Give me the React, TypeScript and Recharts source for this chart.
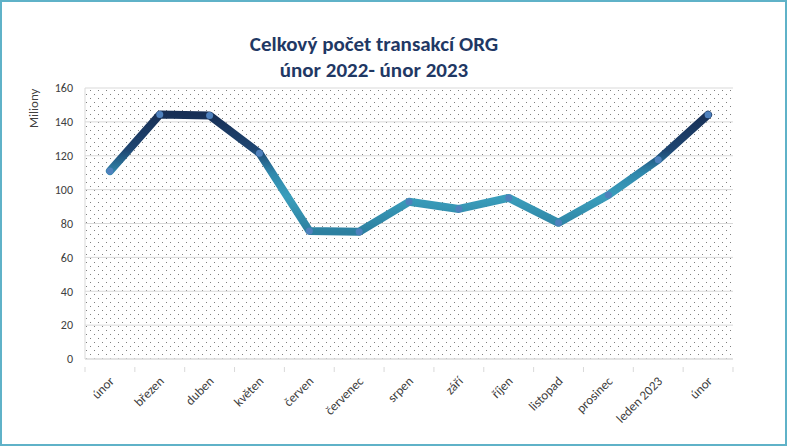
import { LineChart, Line, XAxis, YAxis, CartesianGrid } from 'recharts'

const months = ['únor', 'březen', 'duben', 'květen', 'červen', 'červenec', 'srpen', 'září', 'říjen', 'listopad', 'prosinec', 'leden 2023', 'únor']
const transactions = [111, 144.3, 143.8, 121.5, 75.6, 75.1, 92.8, 88.6, 95.1, 80.4, 96.8, 117.6, 144.2]
const yTicks = [0, 20, 40, 60, 80, 100, 120, 140, 160]

const FONT = "Carlito, Calibri, 'Open Sans', sans-serif"
const W = 787
const H = 446
const MARGIN = { top: 88, right: 54, bottom: 0, left: 40 }
// category band width used for excel-like tick marks between categories
const BAND = (W - MARGIN.right - 85) / months.length

function MonthTick(props: any) {
  const { x, y, payload } = props
  return (
    <g transform={`translate(${x},${y})`}>
      <line x1={-BAND / 2} y1={0} x2={-BAND / 2} y2={5} stroke="#d9d9d9" />
      {payload.index === months.length - 1 && (
        <line x1={BAND / 2} y1={0} x2={BAND / 2} y2={5} stroke="#d9d9d9" />
      )}
      <text
        x={0}
        y={0}
        transform="translate(5,15) rotate(-45)"
        textAnchor="end"
        fontSize={13}
        fontFamily={FONT}
        fill="#404040"
      >
        {months[payload.index]}
      </text>
    </g>
  )
}

export default function App() {
  const data = months.map((m, i) => ({ month: m, key: `${m}-${i}`, value: transactions[i] }))

  return (
    <div
      style={{
        position: 'absolute',
        left: 0,
        top: 0,
        width: W,
        height: H,
        boxSizing: 'border-box',
        border: '2px solid #5fb2c8',
        background: '#fff',
        fontFamily: FONT,
      }}
    >
      <div
        style={{
          position: 'absolute',
          left: 0,
          top: 29,
          width: 744,
          textAlign: 'center',
          fontSize: 21,
          fontWeight: 'bold',
          lineHeight: '26px',
          color: '#1f3864',
        }}
      >
        Celkový počet transakcí ORG
        <br />
        únor 2022- únor 2023
      </div>
      <div
        style={{
          position: 'absolute',
          left: 24,
          top: 126,
          fontSize: 13,
          color: '#404040',
          transform: 'rotate(-90deg)',
          transformOrigin: 'left top',
        }}
      >
        Miliony
      </div>
      <div style={{ position: 'absolute', left: -2, top: -2 }}>
        <LineChart width={W} height={H} data={data} margin={MARGIN}>
          <defs>
            <pattern id="dots" width="8" height="8" patternUnits="userSpaceOnUse">
              <rect x="2" y="2" width="1" height="1" fill="#7f7f7f" />
              <rect x="6" y="6" width="1" height="1" fill="#7f7f7f" />
            </pattern>
            <linearGradient id="lineGrad" x1="0" y1="0" x2="0" y2="1">
              <stop offset="0%" stopColor="#172f55" />
              <stop offset="30%" stopColor="#1f4672" />
              <stop offset="50%" stopColor="#2f88ac" />
              <stop offset="70%" stopColor="#3a9ebc" />
              <stop offset="100%" stopColor="#2d80a0" />
            </linearGradient>
          </defs>
          <CartesianGrid vertical={false} stroke="#d9d9d9" fill="url(#dots)" />
          <XAxis
            dataKey="key"
            tick={<MonthTick />}
            tickLine={false}
            axisLine={{ stroke: '#d9d9d9' }}
            interval={0}
            height={87}
            padding={{ left: BAND / 2, right: BAND / 2 }}
          />
          <YAxis
            domain={[0, 160]}
            ticks={yTicks}
            width={45}
            tickLine={false}
            axisLine={{ stroke: '#d9d9d9' }}
            tickMargin={6}
            tick={{ fontSize: 12, fill: '#404040', fontFamily: FONT }}
          />
          <YAxis
            yAxisId="right"
            orientation="right"
            width={0}
            tick={false}
            tickLine={false}
            axisLine={{ stroke: '#d0d4dc' }}
          />
          <Line
            dataKey="value"
            stroke="url(#lineGrad)"
            strokeWidth={8}
            strokeLinejoin="round"
            strokeLinecap="round"
            dot={{ r: 3.5, fill: '#4f81bd', stroke: 'none' }}
            activeDot={false}
            isAnimationActive={false}
          />
        </LineChart>
      </div>
    </div>
  )
}
